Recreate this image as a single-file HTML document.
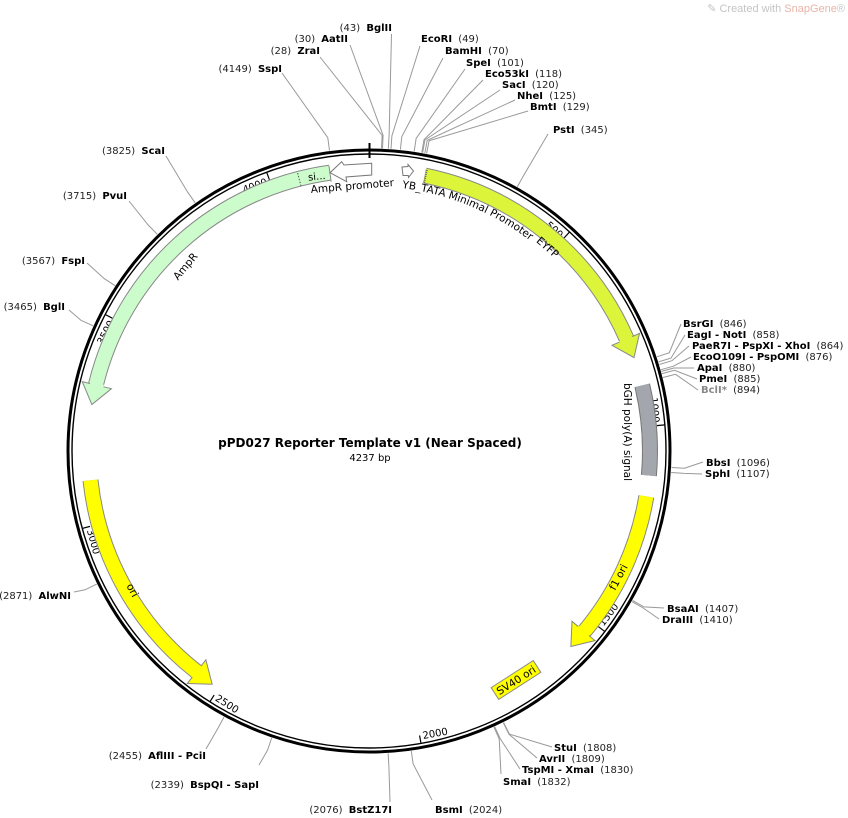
<!DOCTYPE html>
<html><head><meta charset="utf-8"><style>
html,body{margin:0;padding:0;background:#fff;}
svg{display:block;font-family:"DejaVu Sans","Liberation Sans",sans-serif;}
.e{font-size:10px;fill:#222;}
.e tspan.b{font-weight:bold;fill:#000;}
.l{stroke:#999;stroke-width:1;fill:none;}
.t{font-size:10px;fill:#000;}
</style></head><body>
<svg width="848" height="818" viewBox="0 0 848 818" xmlns="http://www.w3.org/2000/svg">
<text x="845" y="12" text-anchor="end" style="font-size:11px;fill:#c4c4c4;font-family:'Liberation Sans',sans-serif">✎ Created with <tspan fill="#e8b4a8">SnapGene</tspan>®</text>

<circle cx="369" cy="451" r="301" fill="none" stroke="#000" stroke-width="3"/>
<circle cx="369" cy="451" r="297" fill="none" stroke="#000" stroke-width="1.4"/>
<line x1="369.5" y1="143" x2="369.5" y2="158" stroke="#000" stroke-width="2"/>

<g transform="rotate(42.48 369 451)"><line x1="369" y1="154" x2="369" y2="162" stroke="#000" stroke-width="1.2"/><text class="t" x="366" y="166" text-anchor="end">500</text></g>
<g transform="rotate(84.96 369 451)"><line x1="369" y1="154" x2="369" y2="162" stroke="#000" stroke-width="1.2"/><text class="t" x="366" y="166" text-anchor="end">1000</text></g>
<g transform="rotate(-52.56 369 451)"><line x1="369" y1="748" x2="369" y2="740" stroke="#000" stroke-width="1.2"/><text class="t" x="372" y="744">1500</text></g>
<g transform="rotate(-10.08 369 451)"><line x1="369" y1="748" x2="369" y2="740" stroke="#000" stroke-width="1.2"/><text class="t" x="372" y="744">2000</text></g>
<g transform="rotate(32.4 369 451)"><line x1="369" y1="748" x2="369" y2="740" stroke="#000" stroke-width="1.2"/><text class="t" x="372" y="744">2500</text></g>
<g transform="rotate(74.88 369 451)"><line x1="369" y1="748" x2="369" y2="740" stroke="#000" stroke-width="1.2"/><text class="t" x="372" y="744">3000</text></g>
<g transform="rotate(297.36 369 451)"><line x1="369" y1="154" x2="369" y2="162" stroke="#000" stroke-width="1.2"/><text class="t" x="366" y="166" text-anchor="end">3500</text></g>
<g transform="rotate(339.84 369 451)"><line x1="369" y1="154" x2="369" y2="162" stroke="#000" stroke-width="1.2"/><text class="t" x="366" y="166" text-anchor="end">4000</text></g>

<path d="M425,175.6 A281,281 0 0 1 626.7,339" fill="none" stroke="#888" stroke-width="16"/>
<path d="M425,175.6 A281,281 0 0 1 626.7,339" fill="none" stroke="#dcf53a" stroke-width="14"/>
<g transform="rotate(66.5 369 451)"><polygon points="369,156 389,170.7 369,186" fill="#dcf53a" stroke="#888" stroke-width="1"/><rect x="368" y="164" width="3" height="14" fill="#dcf53a"/></g>
<g transform="rotate(11.6 369 451)"><line x1="369" y1="164" x2="369" y2="178" stroke="#555" stroke-width="2" stroke-dasharray="1,1"/></g>

<path d="M329.9,172.7 A281,281 0 0 0 95.9,384.9" fill="none" stroke="#888" stroke-width="16"/>
<path d="M329.9,172.7 A281,281 0 0 0 95.9,384.9" fill="none" stroke="#ccfccc" stroke-width="14"/>
<g transform="rotate(283.6 369 451)"><polygon points="369,156 349,170.7 369,186" fill="#ccfccc" stroke="#888" stroke-width="1"/><rect x="368" y="164" width="3" height="14" fill="#ccfccc"/></g>
<g transform="rotate(352 369 451)"><line x1="369" y1="163" x2="369" y2="179" stroke="#888" stroke-width="1"/></g>
<g transform="rotate(345.6 369 451)"><line x1="369" y1="164" x2="369" y2="178" stroke="#555" stroke-width="1" stroke-dasharray="1.5,1.5"/></g>
<text x="308" y="180" style="font-size:10px" transform="rotate(-6 315 177)">si...</text>

<polygon points="371.7,163.3 344,165 341.7,161.7 330,172.7 346.7,181.7 346,177 371.7,175" fill="#fff" stroke="#777" stroke-width="1"/>
<text x="311" y="193" style="font-size:10.5px" transform="rotate(-4.8 311 193)">AmpR promoter</text>

<polygon points="402,167 408,166.5 408,164.5 413.5,171 408.5,177.5 408.3,175.5 403,175.5" fill="#fff" stroke="#777" stroke-width="1"/>
<path id="yb" d="M392.1,187 A265,265 0 0 1 609.2,339" fill="none"/>
<text style="font-size:10.5px"><textPath href="#yb" startOffset="10">YB_TATA Minimal Promoter</textPath></text>
<text x="548" y="251" text-anchor="middle" style="font-size:10.5px" transform="rotate(41 548 247)">EYFP</text>

<path d="M642.2,385.4 A281,281 0 0 1 648.9,475.5" fill="none" stroke="#777" stroke-width="16"/>
<path d="M642.2,385.4 A281,281 0 0 1 648.9,475.5" fill="none" stroke="#a3a7ad" stroke-width="14"/>
<text x="628" y="436" text-anchor="middle" style="font-size:10.5px" transform="rotate(90 628 432)">bGH poly(A) signal</text>

<path d="M646.3,496.4 A281,281 0 0 1 584.2,631.6" fill="none" stroke="#888" stroke-width="16"/>
<path d="M646.3,496.4 A281,281 0 0 1 584.2,631.6" fill="none" stroke="#ffff00" stroke-width="14"/>
<g transform="rotate(130 369 451)"><polygon points="369,156 389,170.7 369,186" fill="#ffff00" stroke="#888" stroke-width="1"/><rect x="368" y="164" width="3" height="14" fill="#ffff00"/></g>
<text x="618" y="581" text-anchor="middle" style="font-size:10.5px" transform="rotate(-62 618 577)">f1 ori</text>

<g transform="translate(516 680) rotate(-32.7)"><rect x="-25" y="-7" width="50" height="14" fill="#ffff00" stroke="#888" stroke-width="1"/><text x="0" y="4" text-anchor="middle" style="font-size:10.5px">SV40 ori</text></g>

<path d="M90.5,480.3 A281,281 0 0 0 196.6,671.6" fill="none" stroke="#888" stroke-width="16"/>
<path d="M90.5,480.3 A281,281 0 0 0 196.6,671.6" fill="none" stroke="#ffff00" stroke-width="14"/>
<g transform="rotate(218 369 451)"><polygon points="369,156 349,170.7 369,186" fill="#ffff00" stroke="#888" stroke-width="1"/><rect x="368" y="164" width="3" height="14" fill="#ffff00"/></g>
<text x="133" y="594" text-anchor="middle" style="font-size:10.5px" transform="rotate(62 133 590)">ori</text>
<text x="185" y="270" text-anchor="middle" style="font-size:10.5px" transform="rotate(-50 185 266)">AmpR</text>

<text x="370" y="447" text-anchor="middle" style="font-size:12px;font-weight:bold">pPD027 Reporter Template v1 (Near Spaced)</text>
<text x="370" y="461" text-anchor="middle" style="font-size:10px">4237 bp</text>

<polyline class="l" points="329.5,150.6 327.8,137.7 282,73"/>
<polyline class="l" points="381.6,148.3 382.1,135.3 320,57"/>
<polyline class="l" points="382.5,148.3 383.1,135.3 350,45"/>
<polyline class="l" points="388.3,148.6 389.1,135.6 391.5,34"/>
<polyline class="l" points="391,148.8 391.9,135.8 420,46"/>
<polyline class="l" points="400.4,149.6 401.8,136.7 443,58"/>
<polyline class="l" points="414.2,151.4 416.1,138.5 465,69"/>
<polyline class="l" points="421.8,152.6 424,139.8 483,80"/>
<polyline class="l" points="422.6,152.8 424.9,140 500,90"/>
<polyline class="l" points="424.8,153.2 427.2,140.4 515,100"/>
<polyline class="l" points="426.6,153.5 429.1,140.8 528,111"/>
<polyline class="l" points="517.3,186.8 523.7,175.4 548,134"/>
<polyline class="l" points="657,356.8 669.3,352.7 681,324"/>
<polyline class="l" points="658.6,361.9 671,358.1 685,335"/>
<polyline class="l" points="659.4,364.5 671.9,360.7 689,346"/>
<polyline class="l" points="660.9,369.7 673.4,366.2 691,357"/>
<polyline class="l" points="661.4,371.4 673.9,368 694,368"/>
<polyline class="l" points="661.9,373.6 674.5,370.3 697,379"/>
<polyline class="l" points="662.9,377.5 675.6,374.3 698,390"/>
<polyline class="l" points="671.5,467.5 684.5,468.2 703,462"/>
<polyline class="l" points="671.2,472.5 684.2,473.4 702,474"/>
<polyline class="l" points="632.6,600.4 643.9,606.9 664,608"/>
<polyline class="l" points="632,601.6 643.2,608 659,619"/>
<polyline class="l" points="503.6,722.5 509.4,734.1 552,747"/>
<polyline class="l" points="503.3,722.6 509,734.3 537,758"/>
<polyline class="l" points="494.7,726.7 500.1,738.5 520,769"/>
<polyline class="l" points="493.9,727.1 499.2,738.9 501,774"/>
<polyline class="l" points="411.3,751 413.1,763.9 432,800"/>
<polyline class="l" points="388.1,753.4 388.9,766.4 390,802"/>
<polyline class="l" points="271.7,737.9 267.5,750.3 259,765"/>
<polyline class="l" points="224,717.1 217.8,728.5 206,749"/>
<polyline class="l" points="195.2,202.8 187.7,192.2 166,156"/>
<polyline class="l" points="157.3,234.3 148.2,225 129,201"/>
<polyline class="l" points="115.1,285.7 104.2,278.6 87,263"/>
<polyline class="l" points="93.1,325.8 81.2,320.5 69,310"/>
<polyline class="l" points="96.8,584.1 85.1,589.8 74,592"/>

<!-- labels with number first: anchored at end -->
<g class="e" text-anchor="end">
<text x="392" y="31">(43) <tspan class="b" dx="3">BglII</tspan></text>
<text x="348" y="42">(30) <tspan class="b" dx="3">AatII</tspan></text>
<text x="320" y="54">(28) <tspan class="b" dx="3">ZraI</tspan></text>
<text x="282" y="72">(4149) <tspan class="b" dx="3">SspI</tspan></text>
<text x="165" y="154">(3825) <tspan class="b" dx="3">ScaI</tspan></text>
<text x="127" y="199">(3715) <tspan class="b" dx="3">PvuI</tspan></text>
<text x="85" y="264">(3567) <tspan class="b" dx="3">FspI</tspan></text>
<text x="65" y="310">(3465) <tspan class="b" dx="3">BglI</tspan></text>
<text x="71" y="599">(2871) <tspan class="b" dx="3">AlwNI</tspan></text>
<text x="392" y="813">(2076) <tspan class="b" dx="3">BstZ17I</tspan></text>
<text x="259" y="788">(2339) <tspan class="b" dx="3">BspQI - SapI</tspan></text>
<text x="206" y="759">(2455) <tspan class="b" dx="3">AflIII - PciI</tspan></text>
</g>

<g class="e">
<text x="421" y="42"><tspan class="b">EcoRI</tspan> <tspan dx="3">(49)</tspan></text>
<text x="445" y="54"><tspan class="b">BamHI</tspan> <tspan dx="3">(70)</tspan></text>
<text x="466" y="66"><tspan class="b">SpeI</tspan> <tspan dx="3">(101)</tspan></text>
<text x="485" y="77"><tspan class="b">Eco53kI</tspan> <tspan dx="3">(118)</tspan></text>
<text x="502" y="88"><tspan class="b">SacI</tspan> <tspan dx="3">(120)</tspan></text>
<text x="517" y="99"><tspan class="b">NheI</tspan> <tspan dx="3">(125)</tspan></text>
<text x="530" y="110"><tspan class="b">BmtI</tspan> <tspan dx="3">(129)</tspan></text>
<text x="553" y="133"><tspan class="b">PstI</tspan> <tspan dx="3">(345)</tspan></text>

<text x="683" y="327"><tspan class="b">BsrGI</tspan> <tspan dx="3">(846)</tspan></text>
<text x="687" y="338"><tspan class="b">EagI - NotI</tspan> <tspan dx="3">(858)</tspan></text>
<text x="692" y="349"><tspan class="b">PaeR7I - PspXI - XhoI</tspan> <tspan dx="3">(864)</tspan></text>
<text x="693" y="360"><tspan class="b">EcoO109I - PspOMI</tspan> <tspan dx="3">(876)</tspan></text>
<text x="697" y="371"><tspan class="b">ApaI</tspan> <tspan dx="3">(880)</tspan></text>
<text x="699" y="382"><tspan class="b">PmeI</tspan> <tspan dx="3">(885)</tspan></text>
<text x="701" y="393"><tspan class="b" style="fill:#888">BclI*</tspan> <tspan dx="3">(894)</tspan></text>
<text x="706" y="466"><tspan class="b">BbsI</tspan> <tspan dx="3">(1096)</tspan></text>
<text x="705" y="477"><tspan class="b">SphI</tspan> <tspan dx="3">(1107)</tspan></text>
<text x="667" y="612"><tspan class="b">BsaAI</tspan> <tspan dx="3">(1407)</tspan></text>
<text x="662" y="623"><tspan class="b">DraIII</tspan> <tspan dx="3">(1410)</tspan></text>

<text x="554" y="751"><tspan class="b">StuI</tspan> <tspan dx="3">(1808)</tspan></text>
<text x="539" y="762"><tspan class="b">AvrII</tspan> <tspan dx="3">(1809)</tspan></text>
<text x="522" y="773"><tspan class="b">TspMI - XmaI</tspan> <tspan dx="3">(1830)</tspan></text>
<text x="503" y="785"><tspan class="b">SmaI</tspan> <tspan dx="3">(1832)</tspan></text>
<text x="435" y="813"><tspan class="b">BsmI</tspan> <tspan dx="3">(2024)</tspan></text>
</g>
</svg>
</body></html>
